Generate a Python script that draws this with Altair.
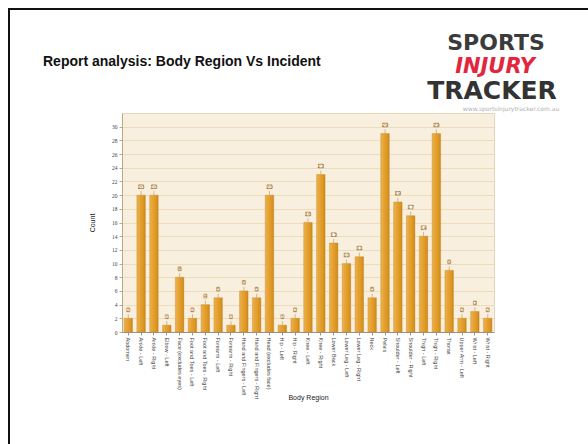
import altair as alt
import pandas as pd

# Incidents per body region
regions = [
    "Abdomen", "Ankle - Left", "Ankle - Right", "Elbow - Left",
    "Face (excludes eyes)", "Foot and Toes - Left", "Foot and Toes - Right",
    "Forearm - Left", "Forearm - Right", "Hand and Fingers - Left",
    "Hand and Fingers - Right", "Head (excludes face)", "Hip - Left",
    "Hip - Right", "Knee - Left", "Knee - Right", "Lower Back",
    "Lower Leg - Left", "Lower Leg - Right", "Neck", "Pelvis",
    "Shoulder - Left", "Shoulder - Right", "Thigh - Left", "Thigh - Right",
    "Thorax", "Upper Arm - Left", "Wrist - Left", "Wrist - Right",
]
counts = [2, 20, 20, 1, 8, 2, 4, 5, 1, 6, 5, 20, 1, 2, 16, 23, 13, 10, 11,
          5, 29, 19, 17, 14, 29, 9, 2, 3, 2]
y_ticks = list(range(0, 31, 2))

title_text = "Report analysis: Body Region Vs Incident"
logo_lines = ["SPORTS", "INJURY", "TRACKER"]
logo_url = "www.sportsinjurytracker.com.au"

# plot-area geometry (pixels)
PLOT_W, PLOT_H = 372, 219
LEFT, TOP = 122, 113
RIGHT, BOTTOM = 588 - LEFT - PLOT_W, 444 - TOP - PLOT_H

df = pd.DataFrame({"region": regions, "count": counts})

x_enc = alt.X(
    "region:N", sort=regions, title="Body Region",
    scale=alt.Scale(paddingInner=0.34, paddingOuter=0.16),
    axis=alt.Axis(
        labelAngle=90, labelFontSize=5.5, labelColor="#444", labelPadding=2,
        labelFont="Liberation Sans", labelAlign="left", labelBaseline="middle",
        labelOverlap=False,
        tickSize=3, tickColor="#9a948a", domainColor="#9a948a",
        titleFontSize=7, titleFont="Liberation Sans", titleFontWeight="normal",
        titleColor="#222", titleX=PLOT_W / 2, titleY=65, titleBaseline="middle",
        titleAlign="center",
    ),
)
y_enc = alt.Y(
    "count:Q", title="Count",
    scale=alt.Scale(domain=[0, 32], nice=False),
    axis=alt.Axis(
        values=y_ticks, labelFontSize=5.5, labelColor="#444", labelPadding=2,
        labelFont="Liberation Serif", labelOverlap=False, labelFlush=False,
        tickSize=3, tickColor="#b7a88a", domainColor="#b7a88a",
        gridColor="#ecdcba", gridWidth=1,
        titleFontSize=7, titleFont="Liberation Sans", titleFontWeight="normal",
        titleColor="#222", titleX=-30, titleY=PLOT_H / 2,
        titleBaseline="middle", titleAlign="center",
    ),
)

bar_fill = alt.Gradient(
    gradient="linear", x1=0, x2=1, y1=0, y2=0,
    stops=[
        alt.GradientStop(color="#ecb34a", offset=0),
        alt.GradientStop(color="#e7a336", offset=0.35),
        alt.GradientStop(color="#da951f", offset=0.8),
        alt.GradientStop(color="#c9861a", offset=1),
    ],
)

base = alt.Chart(df)

bars = base.mark_bar(color=bar_fill, stroke="#c08528", strokeWidth=0.4).encode(
    x=x_enc, y=y_enc
)

stems = base.transform_calculate(top="datum.count + 0.6").mark_rule(
    color="#c9a872", strokeWidth=0.8
).encode(x=x_enc, y=y_enc, y2="top:Q")

boxes = base.transform_calculate(
    digits="datum.count >= 10 ? 'two' : 'one'"
).mark_point(
    filled=True, fill="white", stroke="#c9a872", strokeWidth=0.9,
    opacity=1, size=196, yOffset=-8.5,
).encode(
    x=x_enc,
    y=y_enc,
    shape=alt.Shape(
        "digits:N",
        scale=alt.Scale(
            domain=["one", "two"],
            range=["M-0.22,-0.28H0.22V0.28H-0.22Z", "M-0.33,-0.28H0.33V0.28H-0.33Z"],
        ),
        legend=None,
    ),
)

value_text = base.mark_text(
    fontSize=6, color="#a0733c", font="Liberation Sans", yOffset=-8.5,
    baseline="middle", align="center",
).encode(x=x_enc, y=y_enc, text="count:Q")

# page frame
frame = alt.Chart(pd.DataFrame({"k": [0]})).mark_rect(
    fillOpacity=0, stroke="#111", strokeWidth=2
).encode(
    x=alt.value(9 - LEFT), y=alt.value(9 - TOP),
    x2=alt.value(PLOT_W + 300), y2=alt.value(PLOT_H + 300),
)

title = alt.Chart(pd.DataFrame({"t": [title_text]})).mark_text(
    font="Liberation Sans", fontSize=14, fontWeight="bold", color="#111",
    align="left", baseline="middle",
).encode(text="t:N", x=alt.value(43 - LEFT), y=alt.value(62 - TOP))

logo_sports = alt.Chart(pd.DataFrame({"t": [logo_lines[0]]})).mark_text(
    font="DejaVu Sans", fontSize=22, fontWeight="bold", color="#3b3b3b",
    align="center", baseline="middle",
).encode(text="t:N", x=alt.value(496 - LEFT), y=alt.value(43 - TOP))

logo_injury = alt.Chart(pd.DataFrame({"t": [logo_lines[1]]})).mark_text(
    font="DejaVu Sans", fontSize=21, fontWeight="bold", fontStyle="italic",
    color="#e2263e", align="center", baseline="middle",
).encode(text="t:N", x=alt.value(495 - LEFT), y=alt.value(67 - TOP))

logo_tracker = alt.Chart(pd.DataFrame({"t": [logo_lines[2]]})).mark_text(
    font="DejaVu Sans", fontSize=25, fontWeight="bold", color="#333333",
    align="center", baseline="middle",
).encode(text="t:N", x=alt.value(492 - LEFT), y=alt.value(91 - TOP))

logo_site = alt.Chart(pd.DataFrame({"t": [logo_url]})).mark_text(
    font="DejaVu Sans", fontSize=6, color="#b0b0b0",
    align="center", baseline="middle",
).encode(text="t:N", x=alt.value(511 - LEFT), y=alt.value(109 - TOP))

chart = alt.layer(
    frame, bars, stems, boxes, value_text,
    title, logo_sports, logo_injury, logo_tracker, logo_site,
).properties(
    width=PLOT_W, height=PLOT_H,
    autosize=alt.AutoSizeParams(type="none"),
    padding={"left": LEFT, "top": TOP, "right": RIGHT, "bottom": BOTTOM},
    background="white",
).configure_view(
    fill="#f8efdf", stroke="#e3d6bc", strokeWidth=1,
)

chart.save("out.html", embed_options={"renderer": "svg", "actions": False})
